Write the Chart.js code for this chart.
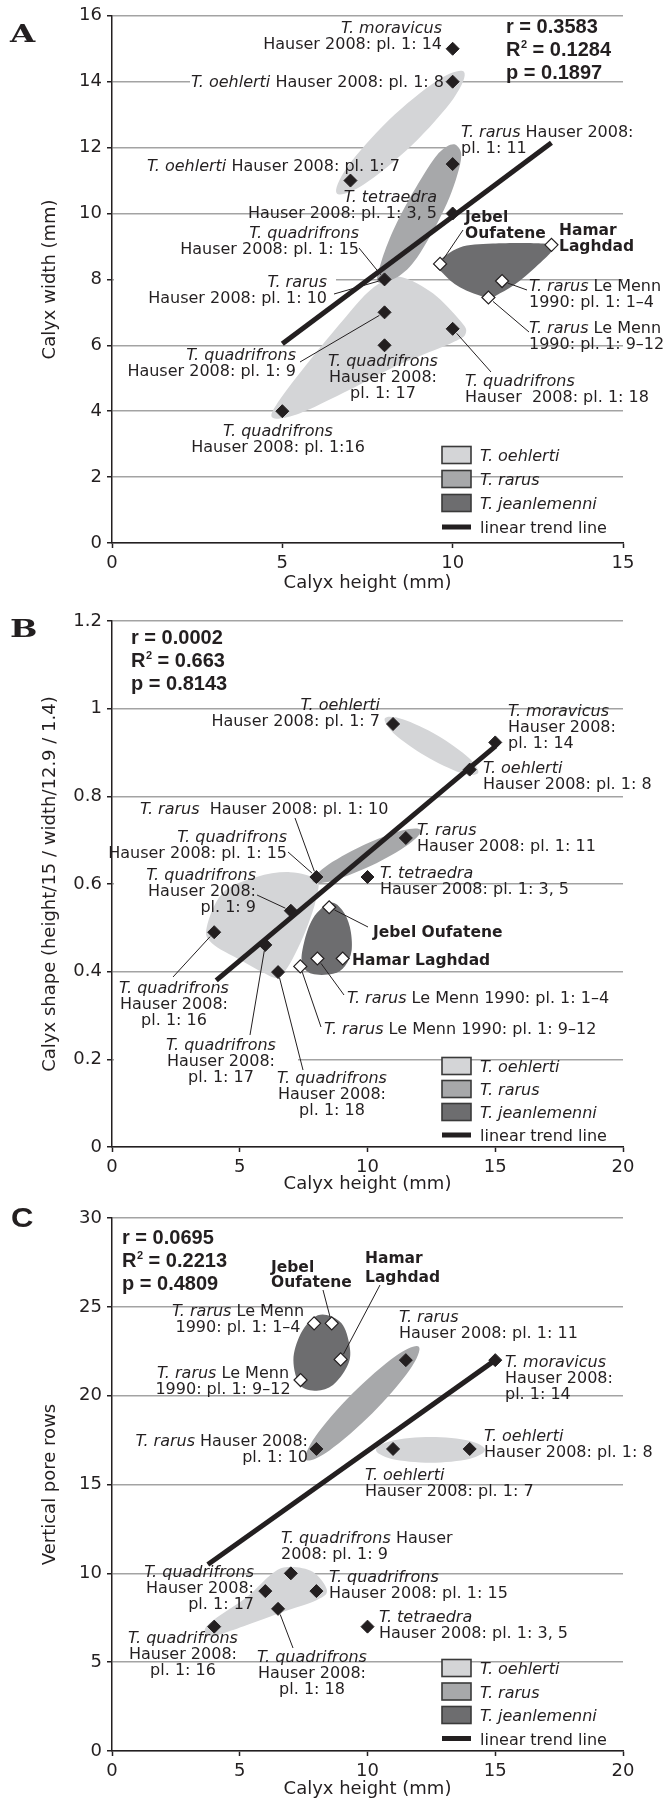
<!DOCTYPE html>
<html>
<head>
<meta charset="utf-8">
<script src="https://cdn.jsdelivr.net/npm/chart.js@4.4.0/dist/chart.umd.min.js"></script>
<style>
  html, body { margin: 0; padding: 0; background: #fff; }
  body { width: 666px; height: 1804px; position: relative; overflow: hidden; }
  canvas { position: absolute; left: 0; }
</style>
</head>
<body>
<canvas id="panelA" width="666" height="600" style="top:0px"></canvas>
<canvas id="panelB" width="666" height="604" style="top:600px"></canvas>
<canvas id="panelC" width="666" height="604" style="top:1200px"></canvas>
<script>
// ---- data ----
// A: calyx height vs calyx width
const aSolidX = [10, 10, 10, 7, 10, 8, 8, 8, 10, 5];
const aSolidY = [15, 14, 11.5, 11, 10, 8, 7, 6, 6.5, 4];
const aOpenX = [9.63, 12.9, 11.45, 11.05];
const aOpenY = [8.47, 9.05, 7.95, 7.45];
const aTrendX = [5, 12.9];
const aTrendY = [6.05, 12.15];
const aHullOehlerti = [[10.33,14.30],[10.03,13.50],[8.81,12.08],[7.39,10.88],[6.60,10.61],[6.91,11.41],[8.12,12.83],[9.54,14.03]];
const aHullRarus = [[10.12,12.06],[10.24,11.61],[9.83,10.30],[9.04,8.79],[8.45,8.12],[7.81,7.91],[7.90,8.52],[8.25,9.48],[8.75,10.48],[9.42,11.61],[9.83,12.03]];
const aHullQuad = [[8.54,8.06],[9.42,7.58],[10.21,6.76],[10.39,6.39],[10.01,6.09],[8.25,5.33],[6.78,4.55],[5.52,3.94],[4.73,3.79],[4.87,4.27],[5.81,5.55],[6.78,6.76],[7.48,7.58],[8.01,7.97]];
const aHullJean = [[9.54,8.48],[10.21,8.97],[11.18,9.09],[12.65,9.09],[12.94,8.94],[12.65,8.58],[11.98,7.97],[11.39,7.58],[11.01,7.45],[10.21,7.76],[9.72,8.18]];
const aStats = [['r', '', ' = 0.3583'], ['R', '2', ' = 0.1284'], ['p', '', ' = 0.1897']];

// B: calyx height vs calyx shape
const bSolidX = [11, 15, 14, 11.5, 8, 10, 7, 4, 6, 6.5];
const bSolidY = [0.965, 0.923, 0.861, 0.705, 0.616, 0.616, 0.539, 0.49, 0.461, 0.399];
const bOpenX = [8.5, 9.03, 8.04, 7.37];
const bOpenY = [0.547, 0.43, 0.43, 0.412];
const bTrendX = [4.08, 15];
const bTrendY = [0.38, 0.914];
const bHullOehlerti = [[14.33,0.853],[13.63,0.854],[12.27,0.892],[11.04,0.943],[10.68,0.978],[11.38,0.976],[12.74,0.939],[13.96,0.888]];
const bHullRarus = [[12.09,0.723],[11.60,0.690],[10.16,0.642],[8.60,0.607],[7.85,0.606],[8.34,0.639],[9.79,0.687],[11.34,0.722]];
const bHullQuad = [[3.71,0.502],[4.34,0.580],[5.66,0.616],[6.97,0.627],[8.01,0.609],[7.98,0.564],[7.67,0.507],[7.28,0.454],[6.85,0.408],[6.46,0.386],[5.87,0.399],[5.01,0.427],[3.91,0.465]];
const bHullJean = [[8.53,0.557],[9.0,0.541],[9.31,0.502],[9.38,0.449],[9.12,0.413],[8.65,0.395],[7.83,0.395],[7.44,0.418],[7.51,0.465],[7.87,0.522]];
const bStats = [['r', '', ' = 0.0002'], ['R', '2', ' = 0.663'], ['p', '', ' = 0.8143']];

// C: calyx height vs vertical pore rows
const cSolidX = [11.5, 15, 8, 11, 14, 7, 6, 8, 6.5, 4, 10];
const cSolidY = [22, 22, 17, 17, 17, 10, 9, 9, 8, 7, 7];
const cOpenX = [7.91, 8.6, 8.95, 7.38];
const cOpenY = [24.07, 24.07, 22.04, 20.88];
const cTrendX = [3.75, 15];
const cTrendY = [10.5, 22];
const cHullJean = [[8.40,24.54],[9.04,23.97],[9.32,22.57],[9.19,21.61],[8.65,20.60],[8.01,20.28],[7.36,20.60],[7.10,22.00],[7.36,23.41],[7.87,24.37]];
const cHullRarus = [[12.01,22.76],[11.64,21.43],[10.19,19.01],[8.51,16.92],[7.59,16.38],[7.96,17.70],[9.41,20.12],[11.09,22.22]];
const cHullOehlerti = [[14.6,16.95],[13.98,17.46],[12.47,17.67],[10.95,17.46],[10.33,16.95],[10.95,16.44],[12.47,16.23],[13.98,16.44]];
const cHullQuad = [[6.97,10.35],[7.87,10.07],[8.41,9.06],[8.02,8.50],[6.58,7.77],[4.62,6.75],[3.90,6.45],[3.63,6.80],[4.00,7.40],[5.28,8.67],[6.30,10.02]];
const cStats = [['r', '', ' = 0.0695'], ['R', '2', ' = 0.2213'], ['p', '', ' = 0.4809']];

const legendNames = ['*T. oehlerti*', '*T. rarus*', '*T. jeanlemenni*', 'linear trend line'];
const xTitle = 'Calyx height (mm)';

// ---- styles ----
const INK = '#231f20';
const GRID = '#a3a3a3';
const LIGHT = '#d4d5d7';
const MID = '#a7a8aa';
const DARK = '#6d6d6f';
const FAMILY = '"DejaVu Sans", sans-serif';
Chart.defaults.font.family = FAMILY;
Chart.defaults.color = INK;

const panels = [
  {
    id: 'panelA', letter: 'A', letterFont: 'bold 25px "DejaVu Serif"', letterScale: 1.3, letterAt: [10, 42],
    xMax: 15, yMax: 16, yStep: 2, yTitle: 'Calyx width (mm)',
    areaTop: 15, areaBottom: 543, xTitlePad: 6,
    solid: [aSolidX, aSolidY], open: [aOpenX, aOpenY], trend: [aTrendX, aTrendY],
    hulls: [[aHullQuad, LIGHT], [aHullOehlerti, LIGHT], [aHullRarus, MID], [aHullJean, DARK]],
    stats: aStats, statsAt: [506, 33], statsStep: 23,
    legendAt: 455, legendStep: 24,
    masks: [[190, 73, 446, 90], [452, 140, 623, 155], [114, 272, 336, 286]],
    labels: [
      { x: 442, y: 33, align: 'right', lines: ['*T. moravicus*', 'Hauser 2008: pl. 1: 14'] },
      { x: 444, y: 87, align: 'right', lines: ['*T. oehlerti* Hauser 2008: pl. 1: 8'] },
      { x: 461, y: 137, align: 'left', lines: ['*T. rarus* Hauser 2008:', 'pl. 1: 11'] },
      { x: 400, y: 171, align: 'right', lines: ['*T. oehlerti* Hauser 2008: pl. 1: 7'] },
      { x: 437, y: 202, align: 'right', lines: ['*T. tetraedra*', 'Hauser 2008: pl. 1: 3, 5'] },
      { x: 465, y: 222, align: 'left', bold: true, lh: 15.5, lines: ['Jebel', 'Oufatene'] },
      { x: 559, y: 235, align: 'left', bold: true, lh: 15.5, lines: ['Hamar', 'Laghdad'] },
      { x: 359, y: 238, align: 'right', lines: ['*T. quadrifrons*', 'Hauser 2008: pl. 1: 15'] },
      { x: 327, y: 287, align: 'right', lines: ['*T. rarus*', 'Hauser 2008: pl. 1: 10'] },
      { x: 296, y: 360, align: 'right', lines: ['*T. quadrifrons*', 'Hauser 2008: pl. 1: 9'] },
      { x: 383, y: 366, align: 'center', lines: ['*T. quadrifrons*', 'Hauser 2008:', 'pl. 1: 17'] },
      { x: 465, y: 386, align: 'left', lines: ['*T. quadrifrons*', 'Hauser  2008: pl. 1: 18'] },
      { x: 278, y: 436, align: 'center', lines: ['*T. quadrifrons*', 'Hauser 2008: pl. 1:16'] },
      { x: 529, y: 291, align: 'left', lines: ['*T. rarus* Le Menn', '1990: pl. 1: 1–4'] },
      { x: 529, y: 333, align: 'left', lines: ['*T. rarus* Le Menn', '1990: pl. 1: 9–12'] }
    ],
    leaders: [
      { from: [463, 230], to: ['open', 0] },
      { from: [359, 248], to: ['solid', 5] },
      { from: [334, 294], to: ['solid', 5] },
      { from: [300, 362], to: ['solid', 6] },
      { from: [491, 372], to: ['solid', 8] },
      { from: [527, 290], to: ['open', 2] },
      { from: [529, 332], to: ['open', 3] }
    ]
  },
  {
    id: 'panelB', letter: 'B', letterFont: 'bold 25px "DejaVu Serif"', letterScale: 1.3, letterAt: [10, 37],
    xMax: 20, yMax: 1.2, yStep: 0.2, yTitle: 'Calyx shape (height/15 / width/12.9 / 1.4)',
    areaTop: 21, areaBottom: 547, xTitlePad: 9,
    solid: [bSolidX, bSolidY], open: [bOpenX, bOpenY], trend: [bTrendX, bTrendY],
    hulls: [[bHullOehlerti, LIGHT], [bHullQuad, LIGHT], [bHullRarus, MID], [bHullJean, DARK]],
    stats: bStats, statsAt: [131, 44], statsStep: 23,
    legendAt: 466, legendStep: 23,
    masks: [[114, 277, 270, 291], [114, 452, 298, 466]],
    labels: [
      { x: 380, y: 110, align: 'right', lines: ['*T. oehlerti*', 'Hauser 2008: pl. 1: 7'] },
      { x: 508, y: 116, align: 'left', lines: ['*T. moravicus*', 'Hauser 2008:', 'pl. 1: 14'] },
      { x: 483, y: 173, align: 'left', lines: ['*T. oehlerti*', 'Hauser 2008: pl. 1: 8'] },
      { x: 140, y: 214, align: 'left', lines: ['*T. rarus*  Hauser 2008: pl. 1: 10'] },
      { x: 287, y: 242, align: 'right', lines: ['*T. quadrifrons*', 'Hauser 2008: pl. 1: 15'] },
      { x: 417, y: 235, align: 'left', lines: ['*T. rarus*', 'Hauser 2008: pl. 1: 11'] },
      { x: 380, y: 278, align: 'left', lines: ['*T. tetraedra*', 'Hauser 2008: pl. 1: 3, 5'] },
      { x: 256, y: 280, align: 'right', lines: ['*T. quadrifrons*', 'Hauser 2008:', 'pl. 1: 9'] },
      { x: 373, y: 337, align: 'left', bold: true, lines: ['Jebel Oufatene'] },
      { x: 352, y: 365, align: 'left', bold: true, lines: ['Hamar Laghdad'] },
      { x: 174, y: 393, align: 'center', lines: ['*T. quadrifrons*', 'Hauser 2008:', 'pl. 1: 16'] },
      { x: 347, y: 403, align: 'left', lines: ['*T. rarus* Le Menn 1990: pl. 1: 1–4'] },
      { x: 324, y: 434, align: 'left', lines: ['*T. rarus* Le Menn 1990: pl. 1: 9–12'] },
      { x: 221, y: 450, align: 'center', lines: ['*T. quadrifrons*', 'Hauser 2008:', 'pl. 1: 17'] },
      { x: 332, y: 483, align: 'center', lines: ['*T. quadrifrons*', 'Hauser 2008:', 'pl. 1: 18'] }
    ],
    leaders: [
      { from: [295, 218], to: ['solid', 4] },
      { from: [288, 252], to: ['solid', 4] },
      { from: [257, 295], to: ['solid', 6] },
      { from: [368, 327], to: ['open', 0] },
      { from: [173, 377], to: ['solid', 7] },
      { from: [344, 395], to: ['open', 2] },
      { from: [321, 427], to: ['open', 3] },
      { from: [250, 435], to: ['solid', 8] },
      { from: [303, 470], to: ['solid', 9] }
    ]
  },
  {
    id: 'panelC', letter: 'C', letterFont: 'bold 27px "Liberation Sans"', letterScale: 1.15, letterAt: [11, 27],
    xMax: 20, yMax: 30, yStep: 5, yTitle: 'Vertical pore rows',
    areaTop: 18, areaBottom: 551, xTitlePad: 4,
    solid: [cSolidX, cSolidY], open: [cOpenX, cOpenY], trend: [cTrendX, cTrendY],
    hulls: [[cHullJean, DARK], [cHullRarus, MID], [cHullOehlerti, LIGHT], [cHullQuad, LIGHT]],
    stats: cStats, statsAt: [122, 44], statsStep: 23,
    legendAt: 468, legendStep: 23.5,
    masks: [],
    labels: [
      { x: 271, y: 72, align: 'left', bold: true, lh: 15, lines: ['Jebel', 'Oufatene'] },
      { x: 365, y: 63, align: 'left', bold: true, lh: 19, lines: ['Hamar', 'Laghdad'] },
      { x: 238, y: 116, align: 'center', lines: ['*T. rarus* Le Menn', '1990: pl. 1: 1–4'] },
      { x: 399, y: 122, align: 'left', lines: ['*T. rarus*', 'Hauser 2008: pl. 1: 11'] },
      { x: 223, y: 178, align: 'center', lines: ['*T. rarus* Le Menn', '1990: pl. 1: 9–12'] },
      { x: 505, y: 167, align: 'left', lines: ['*T. moravicus*', 'Hauser 2008:', 'pl. 1: 14'] },
      { x: 308, y: 246, align: 'right', lines: ['*T. rarus* Hauser 2008:', 'pl. 1: 10'] },
      { x: 484, y: 241, align: 'left', lines: ['*T. oehlerti*', 'Hauser 2008: pl. 1: 8'] },
      { x: 365, y: 280, align: 'left', lines: ['*T. oehlerti*', 'Hauser 2008: pl. 1: 7'] },
      { x: 281, y: 343, align: 'left', lines: ['*T. quadrifrons* Hauser', '2008: pl. 1: 9'] },
      { x: 254, y: 377, align: 'right', lines: ['*T. quadrifrons*', 'Hauser 2008:', 'pl. 1: 17'] },
      { x: 329, y: 382, align: 'left', lines: ['*T. quadrifrons*', 'Hauser 2008: pl. 1: 15'] },
      { x: 379, y: 422, align: 'left', lines: ['*T. tetraedra*', 'Hauser 2008: pl. 1: 3, 5'] },
      { x: 183, y: 443, align: 'center', lines: ['*T. quadrifrons*', 'Hauser 2008:', 'pl. 1: 16'] },
      { x: 312, y: 462, align: 'center', lines: ['*T. quadrifrons*', 'Hauser 2008:', 'pl. 1: 18'] }
    ],
    leaders: [
      { from: [323, 90], to: ['open', 1] },
      { from: [380, 85], to: ['open', 2] },
      { from: [293, 448], to: ['solid', 8] }
    ]
  }
];

// ---- drawing helpers ----
function labelFont(italic, bold, size) {
  return (italic ? 'italic ' : '') + (bold ? 'bold ' : '') + size + 'px ' + FAMILY;
}

function drawRich(ctx, line, x, y, align, bold, size) {
  const segs = line.split('*');
  const widths = segs.map((s, k) => {
    ctx.font = labelFont(k % 2 === 1, bold, size);
    return ctx.measureText(s).width;
  });
  const total = widths.reduce((a, b) => a + b, 0);
  let cx = align === 'right' ? x - total : align === 'center' ? x - total / 2 : x;
  segs.forEach((s, k) => {
    ctx.font = labelFont(k % 2 === 1, bold, size);
    ctx.fillText(s, cx, y);
    cx += widths[k];
  });
}

// closed smooth curve through the hull points
function smoothClosed(ctx, pts) {
  const n = pts.length;
  ctx.moveTo(pts[0][0], pts[0][1]);
  for (let i = 0; i < n; i++) {
    const p0 = pts[(i - 1 + n) % n], p1 = pts[i], p2 = pts[(i + 1) % n], p3 = pts[(i + 2) % n];
    ctx.bezierCurveTo(
      p1[0] + (p2[0] - p0[0]) / 6, p1[1] + (p2[1] - p0[1]) / 6,
      p2[0] - (p3[0] - p1[0]) / 6, p2[1] - (p3[1] - p1[1]) / 6,
      p2[0], p2[1]);
  }
  ctx.closePath();
}

function overlay(p) {
  return {
    id: 'overlay' + p.letter,
    beforeDatasetsDraw(chart) {
      const ctx = chart.ctx;
      const xs = chart.scales.x, ys = chart.scales.y;
      ctx.save();
      ctx.fillStyle = '#fff';
      p.masks.forEach(m => ctx.fillRect(m[0], m[1], m[2] - m[0], m[3] - m[1]));
      p.hulls.forEach(([pts, col]) => {
        const px = pts.map(q => [xs.getPixelForValue(q[0]), ys.getPixelForValue(q[1])]);
        ctx.beginPath();
        smoothClosed(ctx, px);
        ctx.fillStyle = col;
        ctx.fill();
      });
      ctx.restore();
    },
    afterDatasetsDraw(chart) {
      const ctx = chart.ctx;
      const xs = chart.scales.x, ys = chart.scales.y;
      ctx.save();
      ctx.fillStyle = INK;
      ctx.strokeStyle = INK;
      ctx.textBaseline = 'alphabetic';
      ctx.textAlign = 'left';

      // leader lines, stopping just short of the marker
      ctx.lineWidth = 1;
      p.leaders.forEach(l => {
        const arr = p[l.to[0]];
        const tx = xs.getPixelForValue(arr[0][l.to[1]]);
        const ty = ys.getPixelForValue(arr[1][l.to[1]]);
        const dx = l.from[0] - tx, dy = l.from[1] - ty;
        const d = Math.hypot(dx, dy);
        ctx.beginPath();
        ctx.moveTo(l.from[0], l.from[1]);
        ctx.lineTo(tx + dx / d * 6, ty + dy / d * 6);
        ctx.stroke();
      });

      // point labels
      p.labels.forEach(lab => {
        const size = lab.bold ? 15.5 : 16;
        const lh = lab.lh || 16;
        lab.lines.forEach((line, i) => drawRich(ctx, line, lab.x, lab.y + i * lh, lab.align, !!lab.bold, size));
      });

      // statistics block
      p.stats.forEach((s, i) => {
        const y = p.statsAt[1] + i * p.statsStep;
        let x = p.statsAt[0];
        ctx.font = 'bold 20px "Liberation Sans"';
        ctx.fillText(s[0], x, y);
        x += ctx.measureText(s[0]).width;
        if (s[1]) {
          ctx.font = 'bold 11px "Liberation Sans"';
          ctx.fillText(s[1], x + 0.5, y - 8);
          x += ctx.measureText(s[1]).width + 0.5;
        }
        ctx.font = 'bold 20px "Liberation Sans"';
        ctx.fillText(s[2], x, y);
      });

      // legend
      const fills = [LIGHT, MID, DARK];
      legendNames.forEach((name, i) => {
        const cy = p.legendAt + i * p.legendStep;
        if (i < 3) {
          ctx.fillStyle = fills[i];
          ctx.fillRect(442, cy - 8.5, 29, 17);
          ctx.lineWidth = 1.6;
          ctx.strokeStyle = '#3a3a3a';
          ctx.strokeRect(442, cy - 8.5, 29, 17);
        } else {
          ctx.fillStyle = INK;
          ctx.fillRect(442, cy - 2.5, 29, 5);
        }
        ctx.fillStyle = INK;
        drawRich(ctx, name, 480, cy + 6, 'left', false, 16);
      });

      // panel letter (wide bold face, stretched sideways)
      ctx.font = p.letterFont;
      ctx.translate(p.letterAt[0], p.letterAt[1]);
      ctx.scale(p.letterScale, 1);
      ctx.fillText(p.letter, 0, 0);
      ctx.restore();
    }
  };
}

function toPoints(pair) {
  return pair[0].map((x, i) => ({ x: x, y: pair[1][i] }));
}

function makeChart(p) {
  const canvas = document.getElementById(p.id);
  const H = canvas.height;
  return new Chart(canvas, {
    type: 'scatter',
    data: {
      datasets: [
        { label: 'Hauser 2008', data: toPoints(p.solid), pointStyle: 'rectRot', pointRadius: 6.5,
          backgroundColor: INK, borderColor: INK, borderWidth: 1 },
        { label: 'Le Menn 1990 / localities', data: toPoints(p.open), pointStyle: 'rectRot', pointRadius: 6.5,
          backgroundColor: '#fff', borderColor: INK, borderWidth: 1.2 },
        { label: 'linear trend line', data: toPoints(p.trend), showLine: true, borderColor: INK,
          borderWidth: 5, pointRadius: 0, borderCapStyle: 'butt' }
      ]
    },
    options: {
      responsive: false,
      animation: false,
      events: [],
      layout: { padding: { top: p.areaTop, right: 43, left: 0, bottom: 0 } },
      plugins: { legend: { display: false }, tooltip: { enabled: false } },
      scales: {
        x: {
          type: 'linear', min: 0, max: p.xMax,
          ticks: { stepSize: 5, padding: 5, color: INK, font: { size: 18 } },
          grid: { drawOnChartArea: false, drawTicks: true, tickLength: 5, tickColor: INK, tickWidth: 1.5 },
          border: { color: INK, width: 1.5 },
          title: { display: true, text: xTitle, color: INK, font: { size: 18 }, padding: { top: 0, bottom: p.xTitlePad } },
          afterFit: s => { s.height = H - p.areaBottom; }
        },
        y: {
          type: 'linear', min: 0, max: p.yMax,
          ticks: { stepSize: p.yStep, padding: 5, color: INK, font: { size: 18 },
                   callback: v => String(+v.toFixed(1)) },
          grid: { color: GRID, lineWidth: 1.5, tickLength: 5, tickColor: INK, tickWidth: 1.5 },
          border: { color: INK, width: 1.5 },
          title: { display: true, text: p.yTitle, color: INK, font: { size: 18 }, padding: { top: 40, bottom: 0 } },
          afterFit: s => { s.width = 112; }
        }
      }
    },
    plugins: [overlay(p)]
  });
}

panels.forEach(makeChart);
</script>
</body>
</html>
